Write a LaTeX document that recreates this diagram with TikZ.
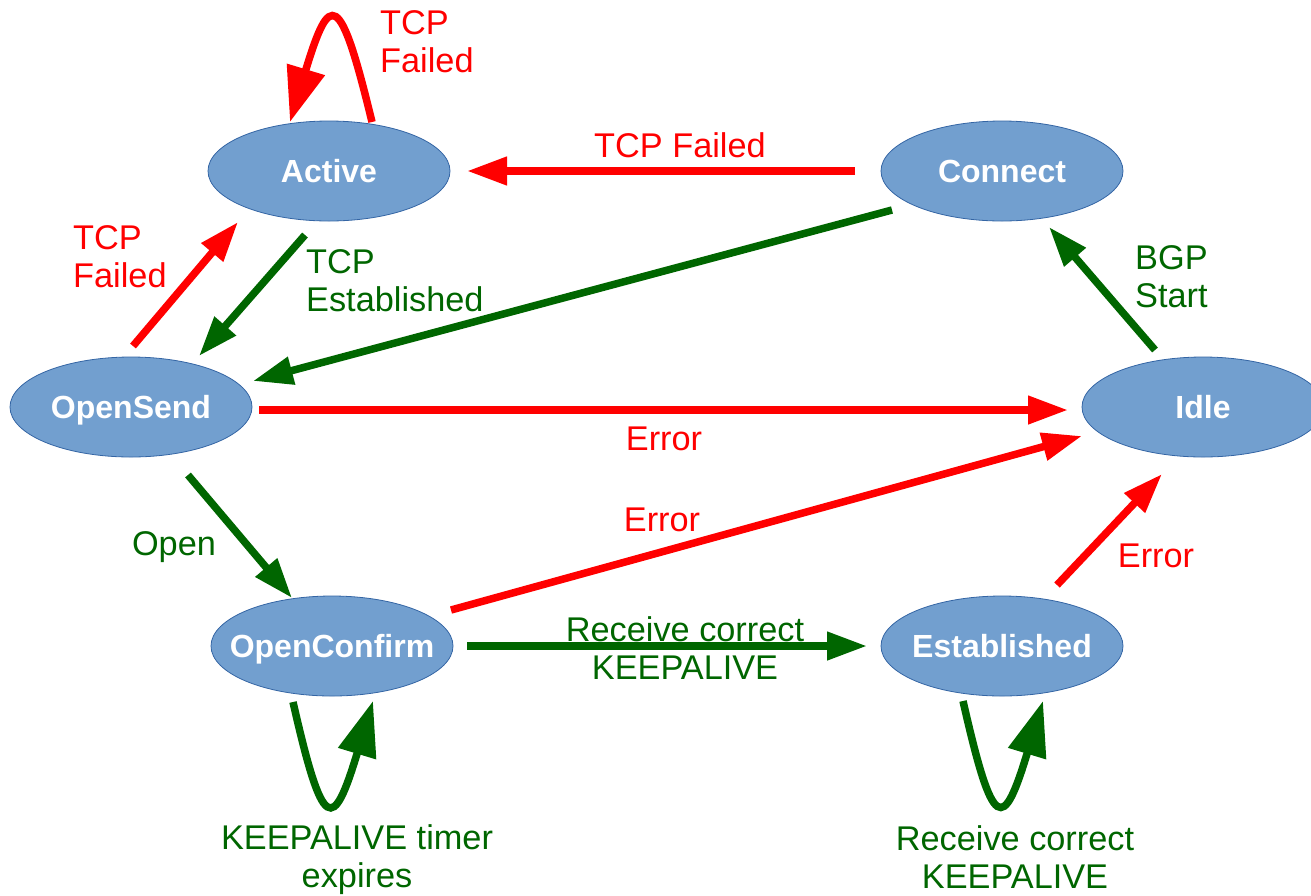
\documentclass[tikz,border=0pt]{standalone}
\usepackage{fontspec}
\setmainfont{Liberation Sans}
\usetikzlibrary{arrows.meta,shapes.geometric}

\definecolor{stfill}{HTML}{729FCF}
\definecolor{stline}{HTML}{3465A4}
\definecolor{okgreen}{HTML}{006600}
\definecolor{errred}{HTML}{FF0000}

\tikzset{
  state/.style={ellipse, fill=stfill, draw=stline, line width=0.8pt,
    minimum width=242pt, minimum height=100pt, inner sep=0pt, outer sep=0pt},
  statetext/.style={text=white, font=\fontsize{32}{36}\selectfont\bfseries,
    text height=23pt, text depth=0pt, inner sep=0pt},
  lbl/.style={font=\fontsize{34.3}{38}\selectfont, inner sep=0pt},
  redlbl/.style={lbl, text=errred},
  greenlbl/.style={lbl, text=okgreen},
  redarrow/.style={draw=errred, line width=7.5pt, -{Triangle[length=40pt,width=27pt]}},
  greenarrow/.style={draw=okgreen, line width=7.5pt, -{Triangle[length=40pt,width=27pt]}},
  redloop/.style={draw=errred, line width=7.5pt, -{Triangle[length=55pt,width=38pt]}},
  greenloop/.style={draw=okgreen, line width=7.5pt, -{Triangle[length=55pt,width=38pt]}},
}

\begin{document}
\begin{tikzpicture}[x=1pt, y=-1pt]
\useasboundingbox (0,0) rectangle (1311,895);

% BGP finite state machine: states
\node[state, label={[statetext]center:Active}]      (A) at (329,171)  {};
\node[state, label={[statetext]center:Connect}]     (C) at (1002,171) {};
\node[state, label={[statetext]center:OpenSend}]    (S) at (131,407)  {};
\node[state, label={[statetext]center:Idle}]        (I) at (1203,407) {};
\node[state, label={[statetext]center:OpenConfirm}] (O) at (332,646)  {};
\node[state, label={[statetext]center:Established}] (E) at (1002,646) {};

% transitions
\draw[redarrow]   ([shift={(-147,0)}]C.center) -- ([shift={(138,0)}]A.center);
\draw[greenarrow] ([shift={(-110,39)}]C.center) -- ([shift={(122,-26)}]S.center);
\draw[greenarrow] ([shift={(-48,-57)}]I.center) -- ([shift={(47,56)}]C.center);
\draw[redarrow]   ([shift={(2,-61)}]S.center) -- ([shift={(-91,51)}]A.center);
\draw[greenarrow] ([shift={(-24,64)}]A.center) -- ([shift={(68,-51)}]S.center);
\draw[redarrow]   ([shift={(128,3)}]S.center) -- ([shift={(-135,3)}]I.center);
\draw[greenarrow] ([shift={(57,68)}]S.center) -- ([shift={(-40,-48)}]O.center);
\draw[redarrow]   ([shift={(119,-36)}]O.center) -- ([shift={(-121,29)}]I.center);
\draw[greenarrow] ([shift={(135,0)}]O.center) -- ([shift={(-135,0)}]E.center);
\draw[redarrow]   ([shift={(55,-61)}]E.center) -- ([shift={(-41,67)}]I.center);

% self transitions
\draw[redloop] ([shift={(43,-49)}]A.center)
  .. controls +(-32,-132) and +(40,-132) .. ([shift={(-39,-49)}]A.center);
\draw[greenloop] ([shift={(-39,56)}]O.center)
  .. controls +(30,132) and +(-40,132) .. ([shift={(41,55)}]O.center);
\draw[greenloop] ([shift={(-39,55)}]E.center)
  .. controls +(30,132) and +(-40,132) .. ([shift={(41,55)}]E.center);

% transition labels
\node[redlbl, anchor=north west, align=left] (tA) at (380,10) {TCP\\Failed};
\node[redlbl, anchor=base] (tCA) at (680,157) {TCP Failed};
\node[redlbl, anchor=north west, align=left] (tSA) at (73,225) {TCP\\Failed};
\node[greenlbl, anchor=north west, align=left] (tAS) at (306,249) {TCP\\Established};
\node[greenlbl, anchor=north west, align=left] (tIC) at (1135,245) {BGP\\Start};
\node[redlbl, anchor=base] (tSI) at (664,450) {Error};
\node[redlbl, anchor=base] (tOI) at (662,531) {Error};
\node[redlbl, anchor=base] (tEI) at (1156,567) {Error};
\node[greenlbl, anchor=base] (tSO) at (174,555) {Open};
\node[greenlbl, anchor=north, align=center] (tOE) at (685,616) {Receive correct\\KEEPALIVE};
\node[greenlbl, anchor=north, align=center] (tO) at (357,824) {KEEPALIVE timer\\expires};
\node[greenlbl, anchor=north, align=center] (tE) at (1015,825) {Receive correct\\KEEPALIVE};
\end{tikzpicture}
\end{document}
